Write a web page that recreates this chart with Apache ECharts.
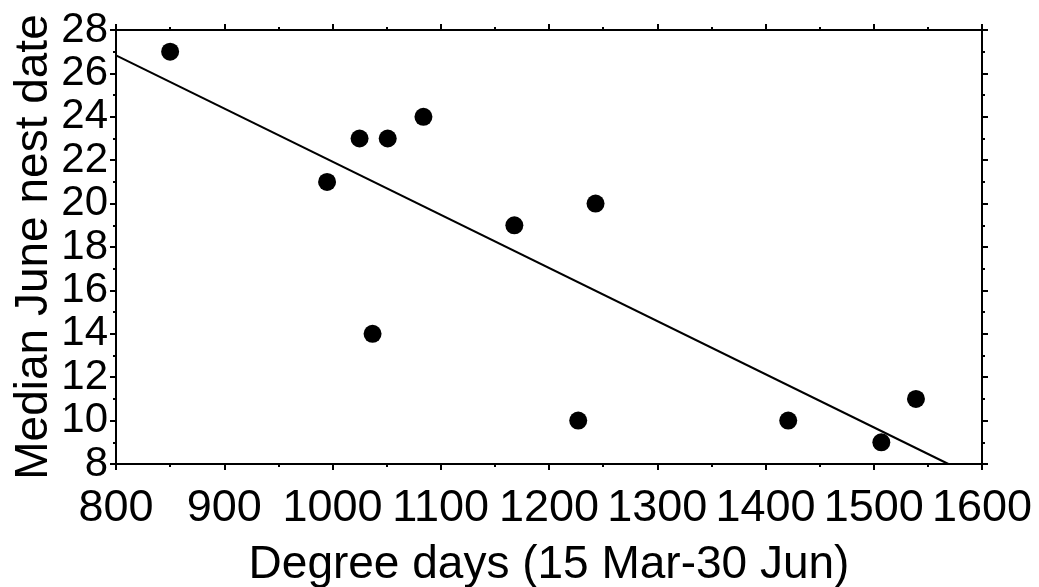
<!DOCTYPE html>
<html><head><meta charset="utf-8">
<script src="https://cdn.jsdelivr.net/npm/echarts@6/dist/echarts.min.js"></script>
<style>html,body{margin:0;padding:0;background:#fff}#c{width:1039px;height:587px}</style>
</head><body><div id="c"></div>
<script>
const degreeDays = [850, 995, 1025, 1051, 1084, 1037, 1168, 1243, 1227, 1421, 1507, 1539];
const nestDate   = [27, 21, 23, 23, 24, 14, 19, 20, 10, 10, 9, 11];
const fitX = [800, 1569];
const fitY = [26.83, 8];
const xTitle = 'Degree days (15 Mar-30 Jun)';
const yTitle = 'Median June nest date';

const font = 'Liberation Sans, Arial, sans-serif';
const axisLine = {show: true, onZero: false, lineStyle: {color: '#000', width: 2}};
const tick = {show: true, length: 6, lineStyle: {color: '#000', width: 2}};
const minor = {show: true, splitNumber: 2, length: 3, lineStyle: {color: '#000', width: 2}};

const chart = echarts.init(document.getElementById('c'), null, {renderer: 'canvas'});
chart.setOption({
  animation: false,
  backgroundColor: '#fff',
  grid: {left: 116, right: 57, top: 30, bottom: 123, containLabel: false, outerBoundsMode: 'none'},
  xAxis: [{
    type: 'value', min: 800, max: 1600, interval: 100, position: 'bottom',
    name: xTitle, nameLocation: 'middle', nameGap: 78, nameMoveOverlap: false,
    nameTextStyle: {fontFamily: font, fontSize: 46, color: '#000'},
    axisLine, axisTick: tick, minorTick: minor, splitLine: {show: false},
    axisLabel: {fontFamily: font, fontSize: 45, color: '#000', margin: 22, hideOverlap: false,
                showMinLabel: true, showMaxLabel: true, formatter: v => String(v)}
  }, {
    type: 'value', min: 800, max: 1600, interval: 100, position: 'top',
    axisLine, axisTick: tick, minorTick: minor, splitLine: {show: false},
    axisLabel: {show: false}
  }],
  yAxis: [{
    type: 'value', min: 8, max: 28, interval: 2, position: 'left',
    name: yTitle, nameLocation: 'middle', nameGap: 59, nameMoveOverlap: false,
    nameTextStyle: {fontFamily: font, fontSize: 46, color: '#000'},
    axisLine, axisTick: tick, minorTick: minor, splitLine: {show: false},
    axisLabel: {fontFamily: font, fontSize: 42, color: '#000', margin: 8, hideOverlap: false,
                showMinLabel: true, showMaxLabel: true, formatter: v => String(v)}
  }, {
    type: 'value', min: 8, max: 28, interval: 2, position: 'right',
    axisLine, axisTick: tick, minorTick: minor, splitLine: {show: false},
    axisLabel: {show: false}
  }],
  series: [{
    type: 'line', data: fitX.map((x, i) => [x, fitY[i]]),
    showSymbol: false, symbol: 'none', lineStyle: {color: '#000', width: 2}, clip: true, z: 2
  }, {
    type: 'scatter', data: degreeDays.map((x, i) => [x, nestDate[i]]),
    symbol: 'circle', symbolSize: 18, itemStyle: {color: '#000', opacity: 1}, z: 3
  }]
});
</script></body></html>
